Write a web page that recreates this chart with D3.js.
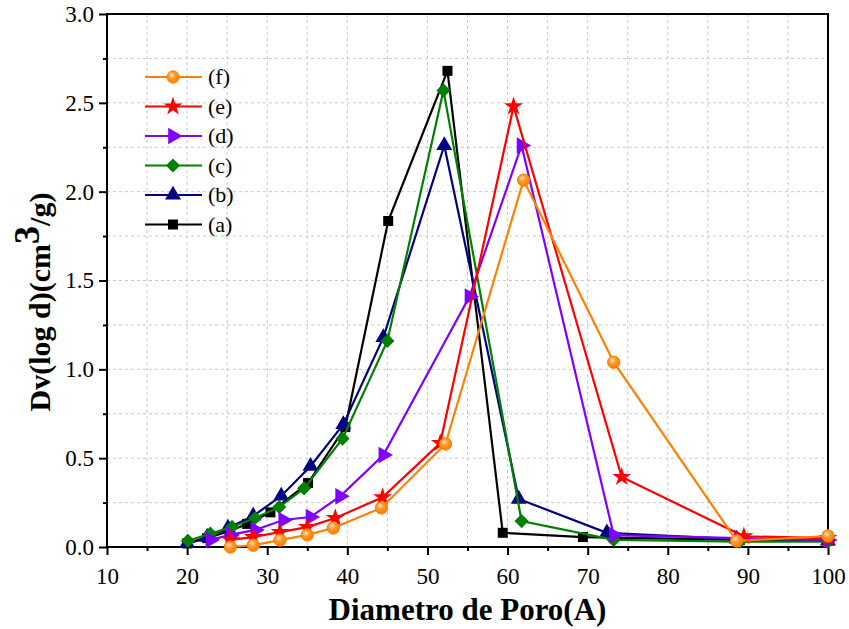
<!DOCTYPE html>
<html>
<head>
<meta charset="utf-8">
<script src="https://d3js.org/d3.v7.min.js"></script>
<style>
  body { margin: 0; background: #fff; }
  svg text { font-family: "Liberation Serif", "Times New Roman", Times, serif; }
</style>
</head>
<body>
<svg id="chart"></svg>
<script>
// data, one pair of arrays per sample
var xA = [20, 22.5, 25.3, 27.5, 30.4, 35.1, 39.75, 45.1, 52.5, 59.4, 69.4, 89, 100];
var yA = [0.02, 0.05, 0.09, 0.13, 0.195, 0.36, 0.675, 1.835, 2.68, 0.08, 0.056, 0.04, 0.035];
var xB = [20, 22.5, 25.1, 28.25, 31.75, 35.4, 39.5, 44.5, 52.1, 61.4, 72.4, 88.6, 100];
var yB = [0.02, 0.056, 0.107, 0.175, 0.287, 0.455, 0.69, 1.18, 2.26, 0.27, 0.08, 0.045, 0.035];
var xC = [20.1, 22.9, 25.6, 28.5, 31.5, 34.6, 39.4, 45, 52, 61.75, 73.25, 89, 100];
var yC = [0.035, 0.075, 0.113, 0.163, 0.225, 0.33, 0.61, 1.16, 2.57, 0.146, 0.04, 0.03, 0.03];
var xD = [22.9, 25.4, 28.5, 32, 35.4, 39.1, 44.5, 55.25, 61.75, 73.25, 88.9, 100];
var yD = [0.04, 0.068, 0.096, 0.152, 0.169, 0.285, 0.518, 1.41, 2.26, 0.067, 0.05, 0.04];
var xE = [25.4, 28.25, 31.6, 35, 38.5, 44.4, 51.6, 60.75, 74.25, 89.5, 100];
var yE = [0.04, 0.056, 0.084, 0.112, 0.163, 0.28, 0.585, 2.48, 0.394, 0.06, 0.05];
var xF = [25.4, 28.25, 31.6, 35, 38.25, 44.25, 52.25, 62, 73.25, 88.6, 100];
var yF = [0.0, 0.01, 0.039, 0.068, 0.107, 0.22, 0.58, 2.065, 1.04, 0.034, 0.062];

var names = ["(a)", "(b)", "(c)", "(d)", "(e)", "(f)"];
var colors = ["#000000", "#000080", "#008000", "#8000ff", "#ff0000", "#ff8000"];
var xTicks = [10, 20, 30, 40, 50, 60, 70, 80, 90, 100];
var yTicks = [0, 0.5, 1.0, 1.5, 2.0, 2.5, 3.0];

var FONT = "'Liberation Serif', 'Times New Roman', Times, serif";

var series = [
  {name: names[0], color: colors[0], sym: d3.symbolSquare, size: 100, xs: xA, ys: yA},
  {name: names[1], color: colors[1], sym: d3.symbolTriangle, size: 110, xs: xB, ys: yB},
  {name: names[2], color: colors[2], sym: d3.symbolSquare, size: 100, xs: xC, ys: yC, rot: 45},
  {name: names[3], color: colors[3], sym: d3.symbolTriangle, size: 120, xs: xD, ys: yD, rot: 90},
  {name: names[4], color: colors[4], sym: d3.symbolStar, size: 110, xs: xE, ys: yE},
  {name: names[5], color: colors[5], sym: d3.symbolCircle, size: 120, xs: xF, ys: yF}
];

var W = 849, H = 629;
var margin = {top: 14, right: 21, bottom: 82, left: 107};
var width = W - margin.left - margin.right,
    height = H - margin.top - margin.bottom;

var svg = d3.select("#chart").attr("width", W).attr("height", H);

var defs = svg.append("defs");
var grad = defs.append("radialGradient").attr("id", "ball")
    .attr("cx", "40%").attr("cy", "35%").attr("r", "60%");
grad.append("stop").attr("offset", "0%").attr("stop-color", "#ffe2c0");
grad.append("stop").attr("offset", "45%").attr("stop-color", "#ff9a2e");
grad.append("stop").attr("offset", "100%").attr("stop-color", "#ff8000");

var g = svg.append("g").attr("transform", "translate(" + margin.left + "," + margin.top + ")");

var x = d3.scaleLinear().domain([10, 100]).range([0, width]);
var y = d3.scaleLinear().domain([0, 3.0]).range([height, 0]);

// dashed grid, every minor tick
g.append("g").selectAll("line").data(d3.range(15, 100, 5))
  .enter().append("line")
    .attr("x1", function(d) { return x(d); }).attr("x2", function(d) { return x(d); })
    .attr("y1", 0).attr("y2", height)
    .attr("stroke", "#c8c8c8").attr("stroke-dasharray", "3,3");
g.append("g").selectAll("line").data(d3.range(0.25, 3.0, 0.25))
  .enter().append("line")
    .attr("y1", function(d) { return y(d); }).attr("y2", function(d) { return y(d); })
    .attr("x1", 0).attr("x2", width)
    .attr("stroke", "#c8c8c8").attr("stroke-dasharray", "3,3");

// axes
var xAxis = g.append("g").attr("transform", "translate(0," + height + ")")
    .call(d3.axisBottom(x).tickValues(xTicks).tickSize(8).tickPadding(13).tickFormat(d3.format("d")));
var xMinor = g.append("g").attr("transform", "translate(0," + height + ")")
    .call(d3.axisBottom(x).tickValues(d3.range(15, 100, 10)).tickSize(4).tickFormat(""));
var yAxis = g.append("g")
    .call(d3.axisLeft(y).tickValues(yTicks).tickSize(8).tickPadding(5).tickFormat(d3.format(".1f")));
var yMinor = g.append("g")
    .call(d3.axisLeft(y).tickValues(d3.range(0.25, 3.0, 0.5)).tickSize(4).tickFormat(""));

[xAxis, xMinor, yAxis, yMinor].forEach(function(a) {
  a.attr("font-family", FONT);
  a.select(".domain").remove();
  a.selectAll("line").attr("stroke", "#000").attr("stroke-width", 2);
  a.selectAll("text").attr("font-size", 23).attr("fill", "#000")
    .style("font-family", FONT);
});

// frame
g.append("rect").attr("width", width).attr("height", height)
  .attr("fill", "none").attr("stroke", "#000").attr("stroke-width", 2);

var line = d3.line()
  .x(function(d) { return x(d[0]); })
  .y(function(d) { return y(d[1]); });

function marker(sel, s) {
  sel.attr("d", d3.symbol().type(s.sym).size(s.size))
    .attr("fill", s.sym === d3.symbolCircle ? "url(#ball)" : s.color)
    .attr("stroke", s.sym === d3.symbolCircle ? "#ff8000" : "none")
    .attr("stroke-width", 1);
}

series.forEach(function(s) {
  var pts = s.xs.map(function(v, i) { return [v, s.ys[i]]; });
  g.append("path").datum(pts)
    .attr("fill", "none").attr("stroke", s.color).attr("stroke-width", 2.2)
    .attr("d", line);
  g.append("g").selectAll("path").data(pts).enter().append("path")
    .attr("transform", function(d) {
      return "translate(" + x(d[0]) + "," + y(d[1]) + ")" + (s.rot ? " rotate(" + s.rot + ")" : "");
    })
    .call(marker, s);
});

// legend, (f) on top
var leg = svg.append("g");
series.slice().reverse().forEach(function(s, i) {
  var ly = 77 + i * 29.5;
  leg.append("line").attr("x1", 145).attr("x2", 202).attr("y1", ly).attr("y2", ly)
    .attr("stroke", s.color).attr("stroke-width", 2.2);
  leg.append("path").attr("transform", "translate(173," + ly + ")" + (s.rot ? " rotate(" + s.rot + ")" : ""))
    .call(marker, s);
  leg.append("text").attr("x", 208).attr("y", ly + 7).attr("font-size", 22)
    .style("font-family", FONT).text(s.name);
});

// axis titles
svg.append("text").attr("x", margin.left + width / 2).attr("y", 620)
  .attr("text-anchor", "middle").attr("font-size", 31).attr("font-weight", "bold")
  .style("font-family", FONT)
  .text("Diametro de Poro(A)");

var yt = svg.append("text").attr("transform", "translate(50,302) rotate(-90)")
  .attr("text-anchor", "middle").attr("font-size", 30).attr("font-weight", "bold")
  .style("font-family", FONT);
yt.append("tspan").text("Dv(log d)(cm");
yt.append("tspan").attr("dy", -11).attr("font-size", 36).text("3");
yt.append("tspan").attr("dy", 11).text("/g)");
</script>
</body>
</html>
